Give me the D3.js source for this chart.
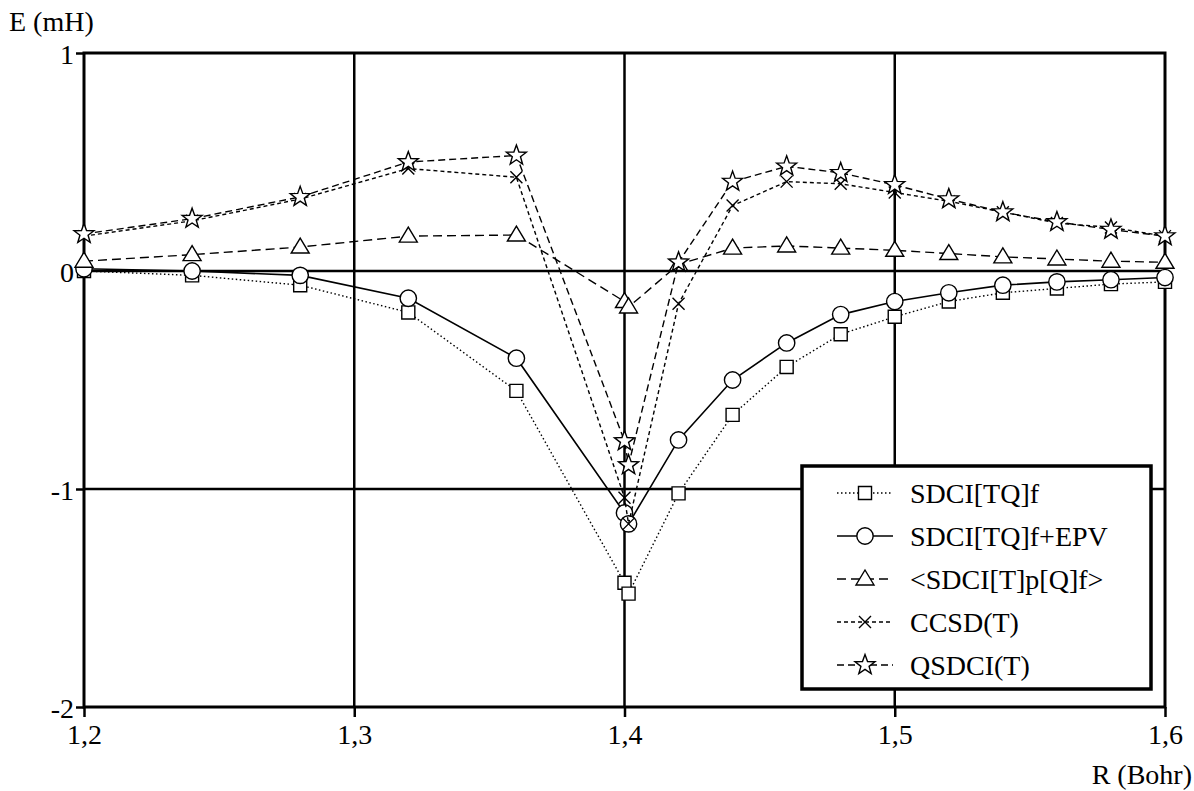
<!DOCTYPE html>
<html lang="en">
<head>
<meta charset="utf-8">
<title>E vs R</title>
<script src="https://d3js.org/d3.v7.min.js"></script>
<style>
  body { margin: 0; background: #fff; }
</style>
</head>
<body>
<svg id="chart" width="1194" height="791"></svg>
<script>
// R values (Bohr)
const rValues = [1.2, 1.24, 1.28, 1.32, 1.36, 1.4, 1.4015, 1.42, 1.44, 1.46, 1.48, 1.5, 1.52, 1.54, 1.56, 1.58, 1.6];

// energies (mH)
const sdciTQf    = [0.0, -0.02, -0.065, -0.19, -0.55, -1.43, -1.48, -1.02, -0.66, -0.44, -0.29, -0.21, -0.14, -0.10, -0.08, -0.06, -0.05];
const sdciTQfEPV = [0.01, 0.0, -0.02, -0.125, -0.40, -1.11, -1.16, -0.775, -0.50, -0.33, -0.20, -0.14, -0.10, -0.065, -0.05, -0.04, -0.03];
const sdciTpQf   = [0.045, 0.075, 0.11, 0.16, 0.165, -0.14, -0.165, 0.03, 0.105, 0.115, 0.105, 0.095, 0.08, 0.065, 0.055, 0.045, 0.04];
const ccsdT      = [0.16, 0.23, 0.33, 0.47, 0.43, -1.04, -1.16, -0.15, 0.30, 0.41, 0.40, 0.36, 0.32, 0.27, 0.22, 0.20, 0.16];
const qsdciT     = [0.17, 0.24, 0.34, 0.50, 0.53, -0.78, -0.89, 0.04, 0.41, 0.48, 0.45, 0.395, 0.33, 0.27, 0.225, 0.19, 0.16];

const xTicks = [1.2, 1.3, 1.4, 1.5, 1.6];
const yTicks = [1, 0, -1, -2];

const seriesNames = ["SDCI[TQ]f", "SDCI[TQ]f+EPV", "<SDCI[T]p[Q]f>", "CCSD(T)", "QSDCI(T)"];
const seriesValues = [sdciTQf, sdciTQfEPV, sdciTpQf, ccsdT, qsdciT];
const seriesDash = ["1.5,2.5", null, "9,5", "4,3", "7,4"];
const seriesMarker = ["square", "circle", "triangle", "cross", "star"];

const serif = "'Liberation Serif'";

const svg = d3.select("#chart");
const margin = { top: 53, right: 29, bottom: 84, left: 84 };
const width = 1194, height = 791;

const x = d3.scaleLinear().domain([1.2, 1.6]).range([margin.left, width - margin.right]);
const y = d3.scaleLinear().domain([-2, 1]).range([height - margin.bottom, margin.top]);

const fmt = d => String(d).replace(".", ",");

// grid
svg.append("g").selectAll("line")
  .data(xTicks.slice(1, -1))
  .join("line")
  .attr("x1", d => x(d)).attr("x2", d => x(d))
  .attr("y1", y(1)).attr("y2", y(-2))
  .attr("stroke", "#000").attr("stroke-width", 2.5);
svg.append("g").selectAll("line")
  .data(yTicks.slice(1, -1))
  .join("line")
  .attr("x1", x(1.2)).attr("x2", x(1.6))
  .attr("y1", d => y(d)).attr("y2", d => y(d))
  .attr("stroke", "#000").attr("stroke-width", 2.5);

// axes
const xAxis = svg.append("g")
  .attr("transform", `translate(0,${y(-2)})`)
  .call(d3.axisBottom(x).tickValues(xTicks).tickSize(10).tickPadding(7).tickFormat(fmt));
const yAxis = svg.append("g")
  .attr("transform", `translate(${x(1.2)},0)`)
  .call(d3.axisLeft(y).tickValues(yTicks).tickSize(8).tickPadding(2).tickFormat(d => d));
[xAxis, yAxis].forEach(g => {
  g.select(".domain").remove();
  g.selectAll("line").attr("stroke", "#000").attr("stroke-width", 2.5);
  g.selectAll("text").style("font-size", "28px").style("font-family", serif);
});
yAxis.selectAll("text").attr("dy", "0.38em");

// frame
svg.append("rect")
  .attr("x", x(1.2)).attr("y", y(1))
  .attr("width", x(1.6) - x(1.2)).attr("height", y(-2) - y(1))
  .attr("fill", "none").attr("stroke", "#000").attr("stroke-width", 3);

// axis titles
svg.append("text").attr("x", 9).attr("y", 31)
  .style("font-size", "28px").style("font-family", serif).text("E (mH)");
svg.append("text").attr("x", 1192).attr("y", 784).attr("text-anchor", "end")
  .style("font-size", "28px").style("font-family", serif).text("R (Bohr)");

// marker shapes
function markerPath(kind) {
  if (kind === "square") return d3.symbol(d3.symbolSquare, 170)();
  if (kind === "circle") return d3.symbol(d3.symbolCircle, 210)();
  if (kind === "triangle") {
    const p = d3.path();
    p.moveTo(0, -9); p.lineTo(9, 6); p.lineTo(-9, 6); p.closePath();
    return p.toString();
  }
  if (kind === "cross") {
    const p = d3.path();
    p.moveTo(-6, -6); p.lineTo(6, 6); p.moveTo(6, -6); p.lineTo(-6, 6);
    return p.toString();
  }
  // star
  const p = d3.path();
  for (let i = 0; i < 10; i++) {
    const r = i % 2 === 0 ? 10.5 : 4.3;
    const a = -Math.PI / 2 + i * Math.PI / 5;
    if (i === 0) p.moveTo(r * Math.cos(a), r * Math.sin(a));
    else p.lineTo(r * Math.cos(a), r * Math.sin(a));
  }
  p.closePath();
  return p.toString();
}

const line = d3.line().x(d => x(d[0])).y(d => y(d[1]));

seriesValues.forEach((vals, i) => {
  const pts = rValues.map((r, j) => [r, vals[j]]);
  const g = svg.append("g");
  g.append("path")
    .attr("d", line(pts))
    .attr("fill", "none").attr("stroke", "#000")
    .attr("stroke-width", i === 1 ? 1.6 : 1.4)
    .attr("stroke-dasharray", seriesDash[i]);
  g.selectAll("path.mk")
    .data(pts)
    .join("path")
    .attr("class", "mk")
    .attr("transform", d => `translate(${x(d[0])},${y(d[1])})`)
    .attr("d", markerPath(seriesMarker[i]))
    .attr("fill", seriesMarker[i] === "cross" ? "none" : "#fff")
    .attr("stroke", "#000").attr("stroke-width", 1.4);
});

// legend
const legend = svg.append("g").attr("transform", "translate(802,466)");
legend.append("rect")
  .attr("width", 349).attr("height", 223)
  .attr("fill", "#fff").attr("stroke", "#000").attr("stroke-width", 3.5);
seriesNames.forEach((name, i) => {
  const row = legend.append("g").attr("transform", `translate(0,${27 + i * 43})`);
  row.append("line")
    .attr("x1", 35).attr("x2", 91)
    .attr("stroke", "#000").attr("stroke-width", i === 1 ? 1.6 : 1.4)
    .attr("stroke-dasharray", seriesDash[i]);
  row.append("path")
    .attr("transform", "translate(63,0)")
    .attr("d", markerPath(seriesMarker[i]))
    .attr("fill", seriesMarker[i] === "cross" ? "none" : "#fff")
    .attr("stroke", "#000").attr("stroke-width", 1.4);
  row.append("text")
    .attr("x", 108).attr("y", 10)
    .style("font-size", "28px").style("font-family", serif)
    .text(name);
});
</script>
</body>
</html>
